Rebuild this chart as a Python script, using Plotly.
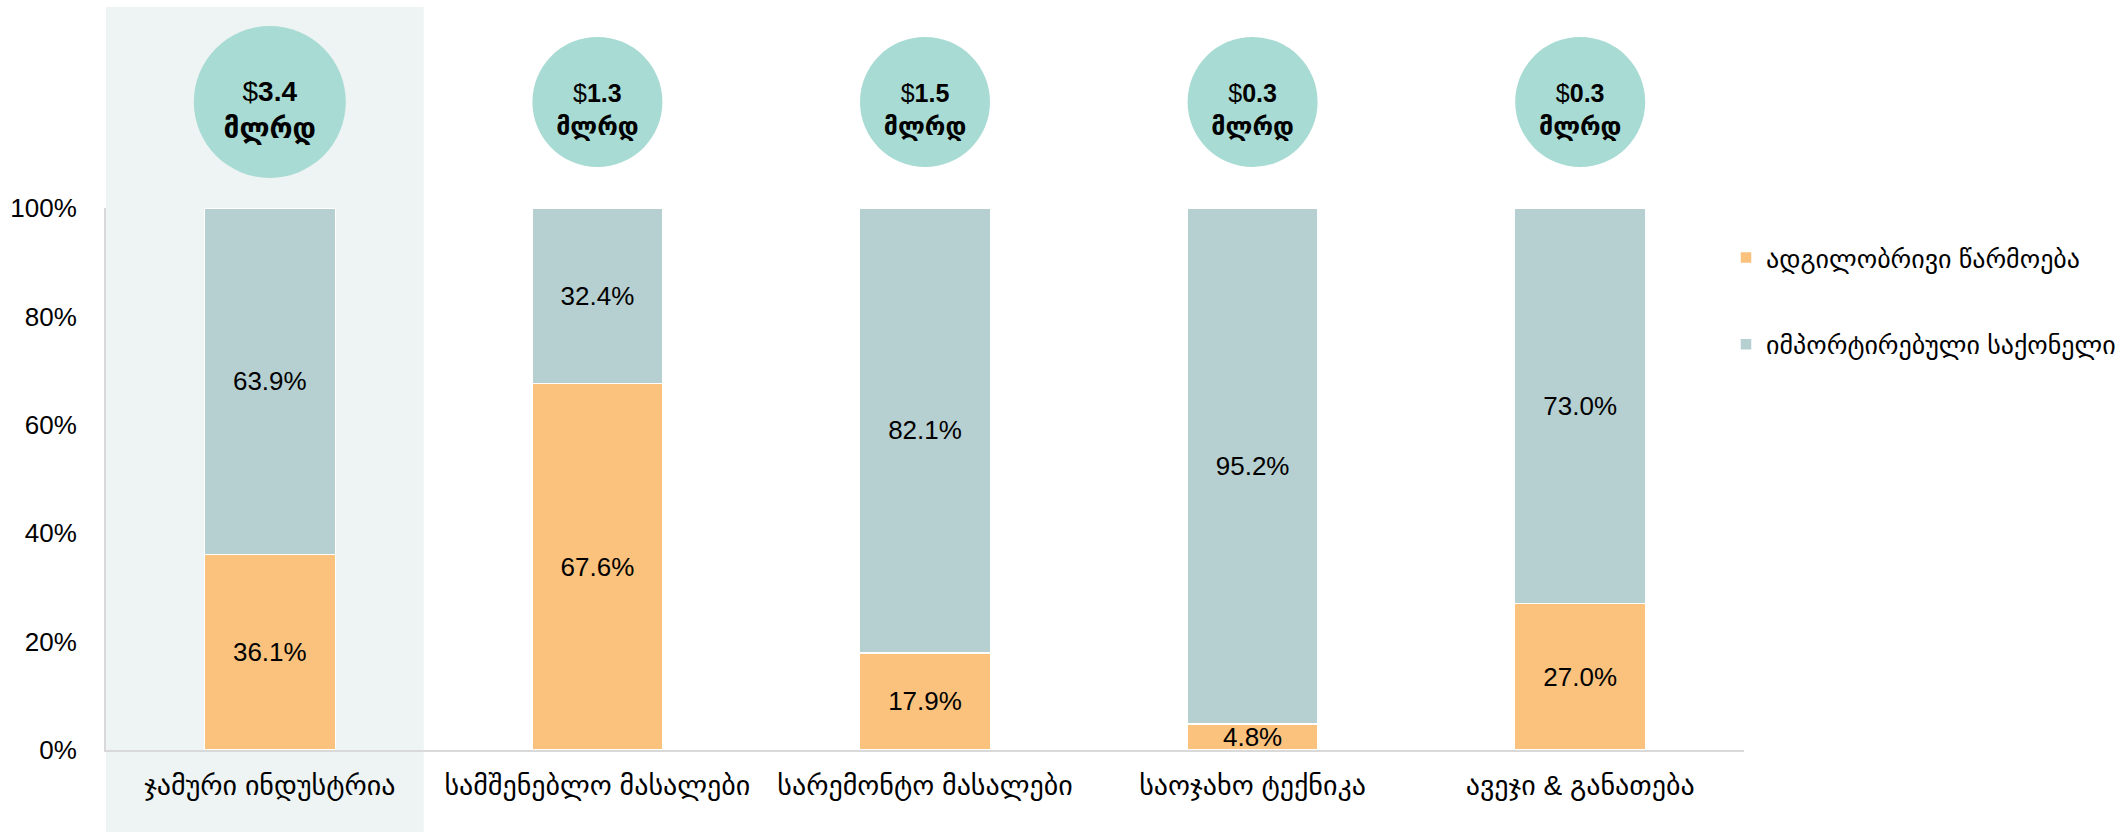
import plotly.graph_objects as go

# ---- data ----
categories = ["ჯამური ინდუსტრია", "სამშენებლო მასალები", "სარემონტო მასალები",
              "საოჯახო ტექნიკა", "ავეჯი & განათება"]
local_pct = [36.1, 67.6, 17.9, 4.8, 27.0]
import_pct = [63.9, 32.4, 82.1, 95.2, 73.0]
totals_bn = [3.4, 1.3, 1.5, 0.3, 0.3]
series_names = ["ადგილობრივი წარმოება", "იმპორტირებული საქონელი"]
unit_label = "მლრდ"
y_ticks = [0, 0.2, 0.4, 0.6, 0.8, 1.0]

# ---- style ----
C_LOCAL = "#FAC27C"
C_IMPORT = "#B6CFD0"
C_CIRCLE = "#A8DBD3"
C_SHADE = "#EEF4F4"
AXIS_C = "#D9D9D9"
FONT = "Liberation Sans, Arial, DejaVu Sans, sans-serif"
highlight = 0

W, H = 2123, 832
M_L, M_R, M_T, M_B = 106, 379, 0, 82
plot_h = H - M_T - M_B           # 750
bar_area_h = 542
y_dom_top = bar_area_h / plot_h
n = len(categories)
BUBBLE_Y = 0.51
TEXT_Y = 0.46

fig = go.Figure()

for name, vals, col in [(series_names[0], local_pct, C_LOCAL),
                        (series_names[1], import_pct, C_IMPORT)]:
    fig.add_trace(go.Bar(
        x=categories, y=[v / 100 for v in vals], name=name,
        text=[f"{v:.1f}%" for v in vals], textposition="inside",
        insidetextanchor="middle", textangle=0,
        textfont=dict(color="black", size=26, family=FONT),
        marker=dict(color=col, line=dict(color="white", width=1.5)),
        width=0.4, legendgroup=name, hoverinfo="skip",
    ))

# total bubbles above bars
sizes = [152 if i == highlight else 130 for i in range(n)]
fsizes = [28 if i == highlight else 25 for i in range(n)]
fig.add_trace(go.Scatter(
    x=categories, y=[BUBBLE_Y] * n, yaxis="y2", mode="markers",
    marker=dict(size=sizes, color=C_CIRCLE, opacity=1, line=dict(width=0)),
    showlegend=False, hoverinfo="skip", cliponaxis=False,
))
fig.add_trace(go.Scatter(
    x=categories, y=[TEXT_Y] * n, yaxis="y2", mode="text",
    text=[f"$<b>{t}</b><br><b>{unit_label}</b>" for t in totals_bn],
    textposition="middle center",
    textfont=dict(color="black", size=fsizes, family=FONT),
    showlegend=False, hoverinfo="skip", cliponaxis=False,
))

# highlighted category band
fig.add_shape(type="rect", xref="x", yref="paper",
              x0=highlight - 0.5, x1=highlight + 0.47,
              y0=-M_B / plot_h, y1=1 - 7 / plot_h,
              fillcolor=C_SHADE, line=dict(width=0), layer="below")

fig.update_layout(
    template="none",
    width=W, height=H, barmode="stack", bargap=0.6,
    margin=dict(l=M_L, r=M_R, t=M_T, b=M_B, pad=0, autoexpand=False),
    paper_bgcolor="white", plot_bgcolor="rgba(0,0,0,0)",
    font=dict(family=FONT, size=26, color="black"),
    uniformtext=dict(minsize=26, mode="show"),
    xaxis=dict(range=[-0.5, n - 0.5], showline=True, linecolor=AXIS_C, linewidth=2,
               showgrid=False, zeroline=False, ticks="", tickfont=dict(size=28),
               ticklabelstandoff=9, fixedrange=True, automargin=False),
    yaxis=dict(domain=[0, y_dom_top], range=[0, 1], tickvals=y_ticks,
               tickformat=".0%", showline=True, linecolor=AXIS_C, linewidth=2,
               showgrid=False, zeroline=False, ticks="", tickfont=dict(size=26),
               ticklabelstandoff=22, fixedrange=True, automargin=False),
    yaxis2=dict(domain=[y_dom_top, 1], range=[0, 1], visible=False,
                anchor="x", fixedrange=True),
    legend=dict(xref="container", yref="container",
                x=1726 / W, xanchor="left",
                y=1 - 234 / H, yanchor="top",
                traceorder="grouped", tracegroupgap=50,
                font=dict(size=26), bgcolor="rgba(0,0,0,0)", borderwidth=0),
    showlegend=True,
)

fig.write_html("out.html", config={"displayModeBar": False},
               post_script="document.body.style.margin='0';document.body.style.overflow='hidden';")
